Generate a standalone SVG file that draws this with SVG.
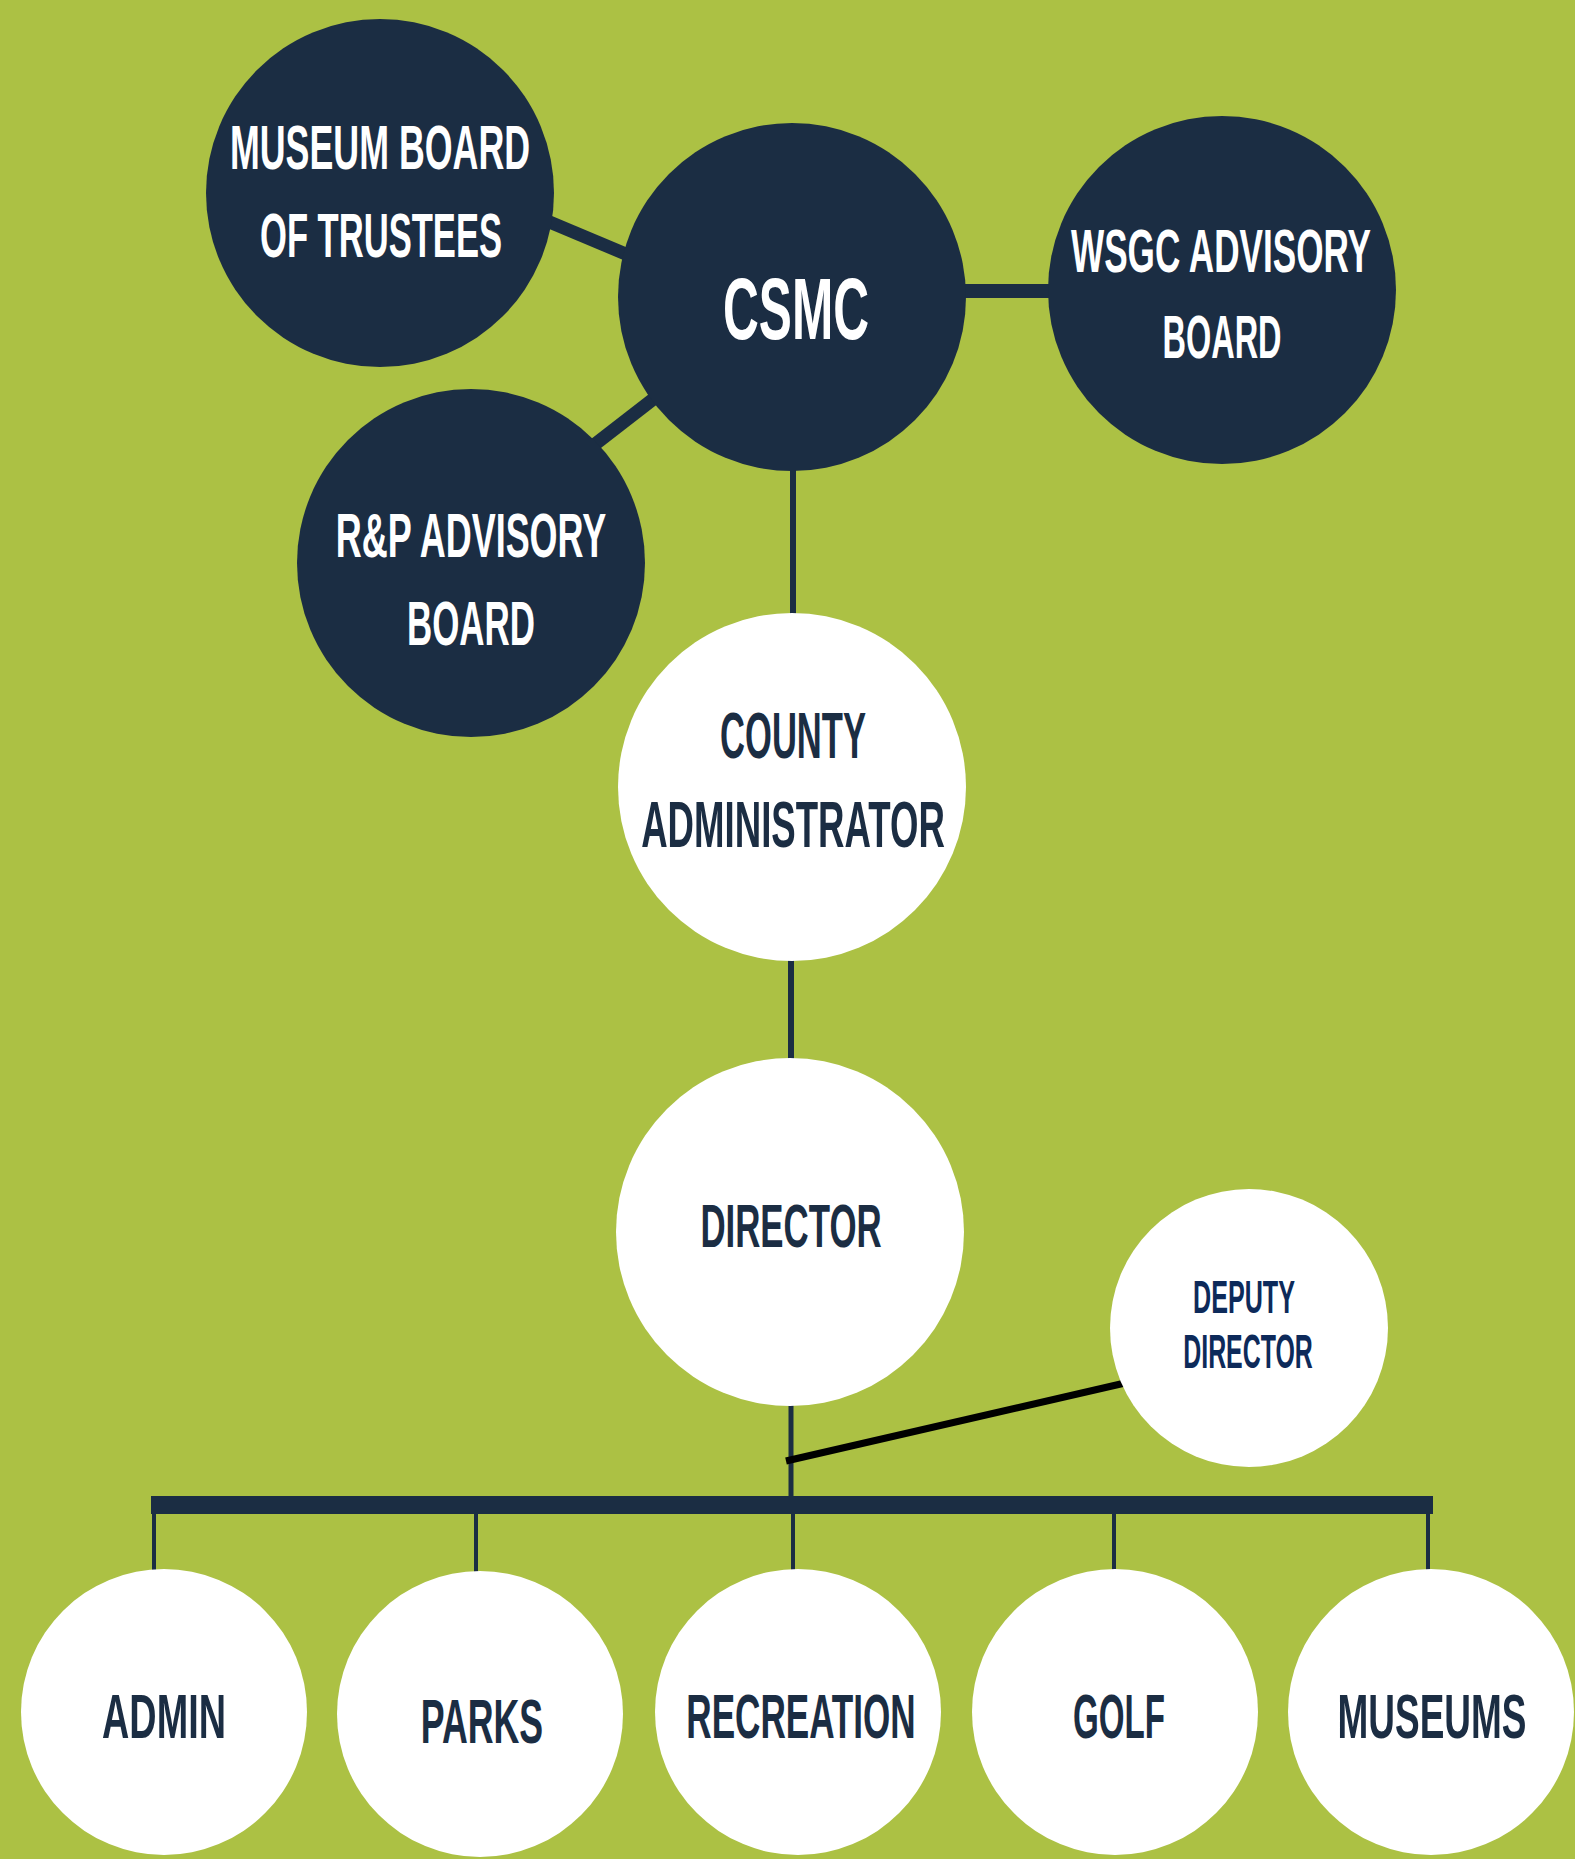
<svg xmlns="http://www.w3.org/2000/svg" width="1575" height="1859" viewBox="0 0 1575 1859">
<style>
.dark{fill:#1b2d43}
.light{fill:#ffffff}
.wt{fill:#ffffff;font-family:"Liberation Sans",Arial,sans-serif;font-weight:bold;text-anchor:middle}
.nt{fill:#1b2d43;font-family:"Liberation Sans",Arial,sans-serif;font-weight:bold;text-anchor:middle}
.dt{fill:#0d2a5a;font-family:"Liberation Sans",Arial,sans-serif;font-weight:bold;text-anchor:middle}
.ln{stroke:#1b2d43;fill:none}
</style>
<rect width="1575" height="1859" fill="#acc144"/>
<g id="connectors">
<line class="ln" x1="540" y1="218" x2="640" y2="260" stroke-width="13"/>
<line class="ln" x1="950" y1="291" x2="1060" y2="291" stroke-width="14"/>
<line class="ln" x1="585" y1="452" x2="665" y2="390" stroke-width="13"/>
<line class="ln" x1="793" y1="460" x2="793" y2="620" stroke-width="6"/>
<line class="ln" x1="791" y1="955" x2="791" y2="1065" stroke-width="6"/>
<line class="ln" x1="791" y1="1400" x2="791" y2="1500" stroke-width="5"/>
<line class="ln" x1="151" y1="1505" x2="1433" y2="1505" stroke-width="18"/>
<line class="ln" x1="154" y1="1505" x2="154" y2="1575" stroke-width="4"/>
<line class="ln" x1="476" y1="1505" x2="476" y2="1578" stroke-width="4"/>
<line class="ln" x1="793" y1="1505" x2="793" y2="1575" stroke-width="4"/>
<line class="ln" x1="1114" y1="1505" x2="1114" y2="1575" stroke-width="4"/>
<line class="ln" x1="1428" y1="1505" x2="1428" y2="1575" stroke-width="4"/>
<line x1="786" y1="1461" x2="1125" y2="1383" stroke="#000000" stroke-width="7"/>
</g>
<g id="museum-board">
<circle class="dark" cx="380" cy="193" r="174"/>
<text class="wt" font-size="63" transform="translate(380 169) scale(0.568 1)">MUSEUM BOARD</text>
<text class="wt" font-size="63" transform="translate(381 257) scale(0.549 1)">OF TRUSTEES</text>
</g>
<g id="csmc">
<circle class="dark" cx="792" cy="297" r="174"/>
<text class="wt" font-size="88" transform="translate(796 339) scale(0.564 1)">CSMC</text>
</g>
<g id="wsgc">
<circle class="dark" cx="1222" cy="290" r="174"/>
<text class="wt" font-size="62" transform="translate(1221 272) scale(0.567 1)">WSGC ADVISORY</text>
<text class="wt" font-size="62" transform="translate(1222 358) scale(0.524 1)">BOARD</text>
</g>
<g id="rp-board">
<circle class="dark" cx="471" cy="563" r="174"/>
<text class="wt" font-size="63" transform="translate(471 557) scale(0.571 1)">R&amp;P ADVISORY</text>
<text class="wt" font-size="63" transform="translate(471 645) scale(0.554 1)">BOARD</text>
</g>
<g id="county-admin">
<circle class="light" cx="792" cy="787" r="174"/>
<text class="nt" font-size="64" transform="translate(793 758) scale(0.540 1)">COUNTY</text>
<text class="nt" font-size="64" transform="translate(793 847) scale(0.572 1)">ADMINISTRATOR</text>
</g>
<g id="director">
<circle class="light" cx="790" cy="1232" r="174"/>
<text class="nt" font-size="62" transform="translate(791 1247) scale(0.562 1)">DIRECTOR</text>
</g>
<g id="deputy-director">
<circle class="light" cx="1249" cy="1328" r="139"/>
<text class="dt" font-size="47" transform="translate(1244 1313) scale(0.535 1)">DEPUTY</text>
<text class="dt" font-size="49" transform="translate(1248 1368) scale(0.508 1)">DIRECTOR</text>
</g>
<g id="admin">
<circle class="light" cx="164" cy="1712" r="143"/>
<text class="nt" font-size="63" transform="translate(164 1738) scale(0.600 1)">ADMIN</text>
</g>
<g id="parks">
<circle class="light" cx="480" cy="1714" r="143"/>
<text class="nt" font-size="63" transform="translate(482 1743) scale(0.567 1)">PARKS</text>
</g>
<g id="recreation">
<circle class="light" cx="798" cy="1712" r="143"/>
<text class="nt" font-size="63" transform="translate(801 1738) scale(0.557 1)">RECREATION</text>
</g>
<g id="golf">
<circle class="light" cx="1115" cy="1712" r="143"/>
<text class="nt" font-size="63" transform="translate(1119 1738) scale(0.526 1)">GOLF</text>
</g>
<g id="museums">
<circle class="light" cx="1431" cy="1712" r="143"/>
<text class="nt" font-size="63" transform="translate(1432 1738) scale(0.587 1)">MUSEUMS</text>
</g>
</svg>
